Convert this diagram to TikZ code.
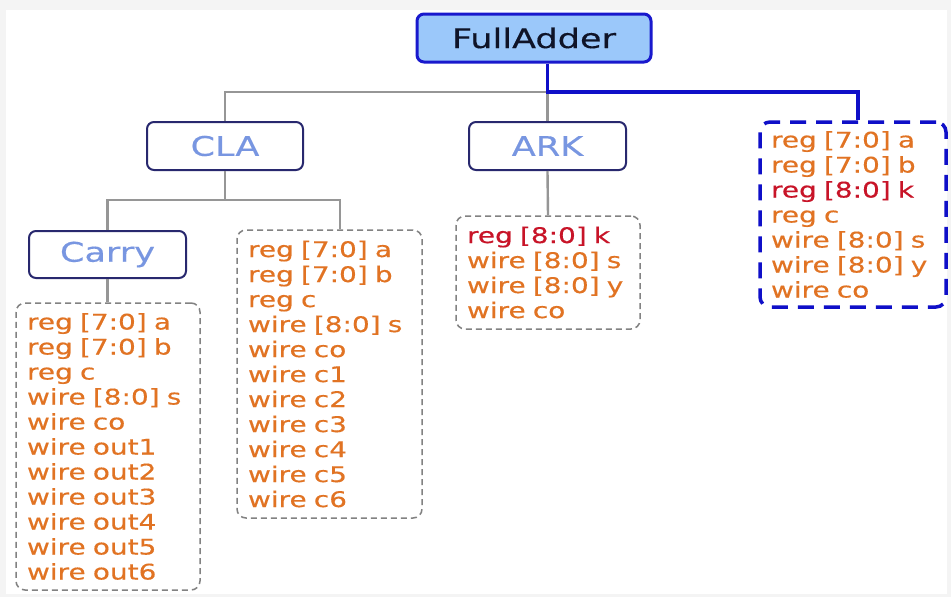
\documentclass[tikz,border=0pt]{standalone}
\usepackage{fontspec}
\usetikzlibrary{calc}
\newfontfamily\vfont[FakeStretch=1.3,FakeBold=0.4]{DejaVu Sans}
\definecolor{navy}{RGB}{40,40,110}
\definecolor{modtext}{RGB}{120,150,225}
\definecolor{topblue}{RGB}{25,25,205}
\definecolor{topfill}{RGB}{155,200,250}
\definecolor{toptext}{RGB}{15,20,40}
\definecolor{listgray}{RGB}{130,130,130}
\definecolor{linkgray}{RGB}{150,150,150}
\definecolor{selblue}{RGB}{15,15,200}
\definecolor{sigorange}{RGB}{225,115,35}
\definecolor{sigred}{RGB}{200,20,40}
\definecolor{framegray}{RGB}{244,244,244}
\begin{document}
\begin{tikzpicture}[x=1pt,y=-1pt,
  modbox/.style={draw=navy, line width=2pt, rounded corners=7pt, fill=white,
    minimum width=156pt, minimum height=48pt, inner sep=0pt,
    font=\vfont\fontsize{27}{30}\selectfont, text=modtext},
  topbox/.style={modbox, draw=topblue, line width=3pt, fill=topfill,
    text=toptext, minimum width=234pt},
  listbox/.style={draw=listgray, dash pattern=on 6pt off 4pt, line width=1.5pt,
    rounded corners=9pt, fill=white, inner xsep=11pt, inner ysep=0pt,
    align=left, text width=162pt,
    font=\vfont\fontsize{21.5}{25}\selectfont, text=sigorange},
  sellist/.style={listbox, draw=selblue, line width=3.5pt,
    dash pattern=on 16pt off 10pt, rounded corners=10pt},
  link/.style={draw=linkgray, line width=2.4pt},
  sellink/.style={draw=selblue, line width=3.2pt},
]
% page frame
\fill[framegray] (0,0) rectangle (951,597);
\fill[white] (6,10) rectangle (947,594);
\useasboundingbox (0,0) rectangle (951,597);

% module boxes
\node[topbox] (top) at (534,38) {FullAdder};
\node[modbox] (cla) at (225,146) {CLA};
\node[modbox, minimum width=157pt] (ark) at (547.5,146) {ARK};
\node[modbox, minimum width=157pt, minimum height=47pt] (carry) at (107.5,254.5) {Carry};

% signal lists
\node[sellist, minimum height=185pt, text width=164pt] (sel) at (853,214.5) {%
reg [7:0] a\\reg [7:0] b\\{\color{sigred}reg [8:0] k}\\reg c\\wire [8:0] s\\wire [8:0] y\\wire co};
\node[listbox, minimum height=113pt] (arklist) at (548,272.5) {%
{\color{sigred}reg [8:0] k}\\wire [8:0] s\\wire [8:0] y\\wire co};
\node[listbox, minimum height=288pt, text width=163pt] (clalist) at (329.5,374) {%
reg [7:0] a\\reg [7:0] b\\reg c\\wire [8:0] s\\wire co\\wire c1\\wire c2\\wire c3\\wire c4\\wire c5\\wire c6};
\node[listbox, minimum height=287pt] (carrylist) at (108,446.5) {%
reg [7:0] a\\reg [7:0] b\\reg c\\wire [8:0] s\\wire co\\wire out1\\wire out2\\wire out3\\wire out4\\wire out5\\wire out6};

% connectors
\coordinate (j0) at (547.5,92);
\coordinate (j1) at (225,200);
\draw[link] (j0) -| (cla.north);
\draw[link] (j0) -- (ark.north);
\draw[sellink] (top.south -| ark.north) -- (j0) -| ($(sel.north)+(5,0)$);
\draw[link] (cla.south) -- (j1);
\draw[link] (carry.north) |- (j1) -| ($(clalist.north)+(10.5,0)$);
\draw[link] (carry.south) -- (carry.south |- carrylist.north);
\draw[link] (ark.south) -- (arklist.north);
\end{tikzpicture}
\end{document}
